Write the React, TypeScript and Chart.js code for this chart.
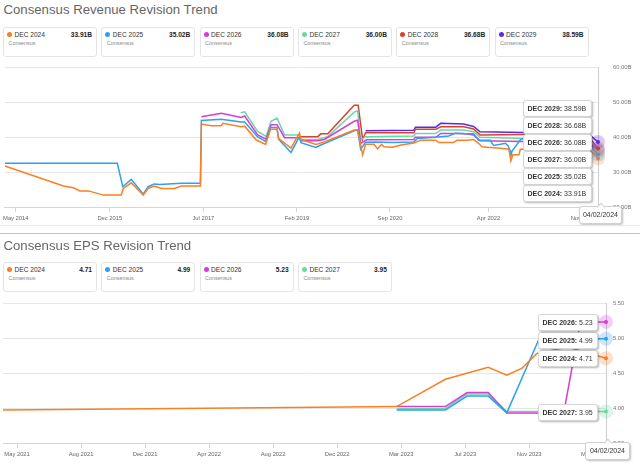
import React, { useEffect, useRef } from 'react';
import { Chart, registerables } from 'chart.js';

Chart.register(...registerables);

const FONT = '"Liberation Sans", Arial, Helvetica, sans-serif';

// ---------- Revenue chart data (x = months since Jan 2014, y = billions) ----------
const REV_NAMES = ['DEC 2024', 'DEC 2025', 'DEC 2026', 'DEC 2027', 'DEC 2028', 'DEC 2029'];
const REV_COLORS = ['#fb7f23', '#2fa0f0', '#d93bd6', '#6ad8a6', '#d9412f', '#5b2be0'];

const REV_DEC2024: [number, number][] = [
  [1.8, 31.7], [13.6, 26.0], [15.6, 25.5], [16.9, 24.6], [18.6, 24.6], [21.6, 23.4], [25.2, 23.4],
  [25.6, 25.3], [27.2, 26.9], [29.6, 23.4], [30.6, 25.3], [31.8, 26.0], [33.3, 25.3], [35.9, 25.3],
  [37.3, 26.0], [41.1, 26.0], [41.3, 43.7], [43.3, 43.2], [45.3, 43.2], [45.6, 43.9], [49.3, 42.9],
  [50.0, 43.1], [52.3, 39.2], [54.2, 37.9], [55.2, 42.2], [56.5, 42.2], [56.8, 39.6], [59.3, 36.8],
  [61.0, 41.1], [61.3, 39.3], [64.3, 37.9], [66.0, 38.6], [72.0, 42.0], [72.7, 42.0], [73.7, 34.9],
  [74.3, 37.9], [76.0, 37.9], [76.7, 36.6], [77.5, 37.9], [78.0, 37.2], [79.7, 37.1], [81.4, 37.7],
  [84.0, 38.3], [85.4, 39.1], [88.4, 39.1], [89.0, 38.4], [92.0, 38.4], [92.7, 39.1], [94.7, 39.1],
  [96.0, 39.3], [97.0, 38.2], [97.7, 37.2], [98.7, 37.1], [101.4, 36.8], [103.1, 36.5], [103.5, 33.2],
  [103.9, 34.9], [105.1, 34.9], [105.4, 36.5], [106.0, 36.5], [113.4, 36.5], [119.4, 36.0],
  [120.2, 35.2], [121.0, 33.91],
];
const REV_DEC2025: [number, number][] = [
  [1.8, 32.5], [24.4, 32.5], [25.5, 25.8], [27.2, 27.9], [29.6, 23.7], [30.6, 25.8], [31.8, 26.6],
  [32.9, 26.4], [37.3, 26.8], [41.1, 26.8], [41.3, 44.7], [45.3, 45.1], [49.3, 44.3], [50.0, 44.3],
  [52.6, 40.0], [54.3, 38.7], [55.2, 42.7], [56.5, 42.7], [56.8, 39.4], [59.3, 35.6], [61.0, 40.1],
  [61.3, 38.4], [64.3, 37.0], [65.3, 37.7], [72.0, 41.8], [72.7, 42.0], [73.3, 36.5], [74.3, 38.5],
  [76.0, 38.6], [79.7, 38.4], [84.0, 38.6], [84.7, 39.6], [88.4, 39.9], [89.4, 40.1], [91.0, 40.3],
  [92.4, 41.1], [94.0, 40.9], [96.0, 40.9], [97.0, 39.1], [99.4, 39.1], [99.7, 38.2], [100.1, 37.6],
  [101.4, 37.9], [102.4, 38.2], [102.9, 37.5], [103.4, 36.0], [103.5, 34.5], [103.7, 35.9],
  [105.4, 39.2], [106.0, 39.6], [113.4, 39.6], [119.4, 38.5], [120.2, 36.2], [121.0, 35.02],
];
const REV_DEC2026: [number, number][] = [
  [41.3, 45.8], [45.3, 46.8], [49.3, 45.6], [50.0, 46.0], [52.6, 40.6], [54.3, 39.4], [55.3, 43.5],
  [56.5, 43.5], [58.0, 39.8], [61.0, 39.8], [61.3, 38.9], [64.7, 38.9], [66.0, 39.3], [72.0, 44.5],
  [72.7, 44.8], [73.3, 38.2], [74.5, 39.2], [84.0, 39.3], [84.3, 39.9], [88.4, 39.9], [89.4, 41.0],
  [94.0, 41.0], [96.0, 40.6], [97.3, 38.9], [106.0, 38.7], [113.4, 38.7], [119.4, 38.2], [121.0, 36.08],
];
const REV_DEC2027: [number, number][] = [
  [49.2, 46.9], [50.0, 47.2], [52.6, 41.6], [54.3, 40.2], [55.3, 44.5], [56.5, 45.4], [58.0, 40.6],
  [61.0, 40.6], [61.3, 39.3], [64.7, 39.3], [66.7, 40.1], [72.0, 47.1], [72.7, 47.5], [73.3, 39.1],
  [74.3, 40.1], [84.0, 40.3], [84.3, 41.0], [88.4, 41.0], [89.4, 42.0], [94.0, 42.0], [96.0, 41.5],
  [97.3, 39.9], [106.0, 39.6], [113.4, 39.6], [119.4, 38.8], [121.0, 36.0],
];
const REV_DEC2028: [number, number][] = [
  [61.0, 40.1], [64.7, 40.1], [65.3, 40.9], [66.7, 40.9], [72.0, 49.1], [72.8, 49.1], [73.7, 39.3],
  [74.3, 41.2], [84.0, 41.2], [84.3, 42.2], [88.4, 42.2], [89.4, 42.9], [94.0, 42.9], [96.0, 42.3],
  [97.3, 40.6], [106.0, 40.7], [113.4, 40.7], [119.4, 39.6], [121.0, 36.68],
];
const REV_DEC2029: [number, number][] = [
  [74.3, 41.8], [84.0, 41.9], [84.3, 42.8], [88.4, 42.8], [89.4, 43.9], [94.0, 43.7], [96.0, 43.0],
  [97.3, 41.5], [106.0, 41.3], [113.4, 41.3], [119.4, 40.5], [121.0, 38.59],
];
const REV_SERIES = [REV_DEC2024, REV_DEC2025, REV_DEC2026, REV_DEC2027, REV_DEC2028, REV_DEC2029];
const REV_TICK_POS = [4, 22.9, 41.7, 60.5, 79.2, 99, 118];
const REV_TICK_LABELS = ['May 2014', 'Dec 2015', 'Jul 2017', 'Feb 2019', 'Sep 2020', 'Apr 2022', 'Nov 2023'];
const REV_X_RANGE = [1.8, 121.0];
const REV_Y_RANGE = [20, 60];
const REV_Y_STEP = 10;

// ---------- EPS chart data (x = axis tick index, y = EPS) ----------
const EPS_NAMES = ['DEC 2024', 'DEC 2025', 'DEC 2026', 'DEC 2027'];
const EPS_COLORS = ['#fb7f23', '#2fa0f0', '#d93bd6', '#6ad8a6'];
const EPS_DEC2024: [number, number][] = [
  [-0.22, 3.97], [4.73, 4.01], [5.93, 4.02], [6.69, 4.41], [7.36, 4.58], [7.65, 4.47], [7.89, 4.57],
  [8.12, 4.78], [8.6, 4.87], [9.2, 4.71],
];
const EPS_DEC2025: [number, number][] = [
  [5.93, 3.97], [6.69, 3.97], [7.03, 4.17], [7.36, 4.17], [7.65, 3.93], [8.15, 4.98], [9.2, 4.99],
];
const EPS_DEC2026: [number, number][] = [
  [5.93, 4.02], [6.69, 4.02], [7.03, 4.22], [7.36, 4.22], [7.65, 3.93], [8.54, 3.93], [8.8, 5.23], [9.2, 5.23],
];
const EPS_DEC2027: [number, number][] = [
  [5.93, 3.99], [6.69, 3.99], [7.03, 4.20], [7.36, 4.20], [7.65, 3.95], [9.2, 3.95],
];
const EPS_SERIES = [EPS_DEC2024, EPS_DEC2025, EPS_DEC2026, EPS_DEC2027];
const EPS_TICK_POS = [0, 1, 2, 3, 4, 5, 6, 7, 8, 9];
const EPS_TICK_LABELS = ['May 2021', 'Aug 2021', 'Dec 2021', 'Apr 2022', 'Aug 2022', 'Dec 2022', 'Mar 2023', 'Jul 2023', 'Nov 2023', 'Mar 2024'];
const EPS_X_RANGE = [-0.22, 9.2];
const EPS_Y_RANGE = [3.5, 5.5];
const EPS_Y_STEP = 0.5;

const HOVER_DATE = '04/02/2024';

const haloPlugin = {
  id: 'halo',
  afterDatasetsDraw(chart: any) {
    const ctx = chart.ctx;
    chart.data.datasets.forEach((ds: any, i: number) => {
      const meta = chart.getDatasetMeta(i);
      const pt = meta.data[meta.data.length - 1];
      if (!pt) return;
      ctx.save();
      ctx.globalAlpha = 0.25;
      ctx.fillStyle = ds.borderColor;
      ctx.beginPath();
      ctx.arc(pt.x, pt.y, 7, 0, Math.PI * 2);
      ctx.fill();
      ctx.globalAlpha = 1;
      ctx.beginPath();
      ctx.arc(pt.x, pt.y, 2, 0, Math.PI * 2);
      ctx.fill();
      ctx.restore();
    });
  },
};

type LCProps = {
  top: number;
  series: [number, number][][];
  names: string[];
  colors: string[];
  xRange: number[];
  tickPos: number[];
  tickLabels: string[];
  yRange: number[];
  yStep: number;
  yFmt: (v: number) => string;
  yWidth: number;
  yPad: number;
};

function LineChart(p: LCProps) {
  const ref = useRef<HTMLCanvasElement>(null);
  useEffect(() => {
    if (!ref.current) return;
    const chart = new Chart(ref.current, {
      type: 'line',
      data: {
        datasets: p.series.map((s, i) => ({
          label: p.names[i],
          data: s.map(([x, y]) => ({ x, y })),
          borderColor: p.colors[i],
          backgroundColor: p.colors[i],
          borderWidth: 1.5,
          pointRadius: 0,
          tension: 0,
          fill: false,
        })),
      },
      options: {
        animation: false,
        responsive: false,
        devicePixelRatio: 1,
        events: [],
        layout: { padding: { left: 3, top: 7, right: 0, bottom: 0 } },
        plugins: { legend: { display: false }, tooltip: { enabled: false } },
        scales: {
          x: {
            type: 'linear',
            min: p.xRange[0],
            max: p.xRange[1],
            grid: { drawOnChartArea: false, drawTicks: true, tickLength: 5, color: '#ccd6eb' },
            border: { color: '#ccd6eb' },
            ticks: {
              autoSkip: false,
              maxRotation: 0,
              padding: 3,
              color: '#666',
              font: { size: 5.8, family: FONT },
              callback: (_v: any, i: number) => p.tickLabels[i],
            },
            afterBuildTicks: (s: any) => {
              s.ticks = p.tickPos.map((v) => ({ value: v }));
            },
            afterFit: (s: any) => {
              s.height = 19;
            },
          },
          y: {
            position: 'right',
            min: p.yRange[0],
            max: p.yRange[1],
            ticks: {
              stepSize: p.yStep,
              padding: 0,
              color: '#777',
              font: { size: 5.8, family: FONT },
              callback: (v: any) => p.yFmt(Number(v)),
            },
            grid: { color: '#e6e6e6', drawTicks: true, tickLength: p.yPad, tickColor: 'rgba(0,0,0,0)' },
            border: { display: true, color: '#cccccc' },
            afterFit: (s: any) => {
              s.width = p.yWidth;
            },
          },
        },
      } as any,
      plugins: [haloPlugin],
    });
    return () => chart.destroy();
  }, []);
  return (
    <canvas
      ref={ref}
      width={640}
      height={166}
      style={{ position: 'absolute', left: 0, top: p.top, width: 640, height: 166 }}
    />
  );
}

function Card({ left, top, color, label, value }: any) {
  return (
    <div
      style={{
        position: 'absolute', left, top, width: 94, height: 30, boxSizing: 'border-box',
        border: '1px solid #e4e4e4', borderRadius: 3, background: '#fff', fontFamily: FONT,
      }}
    >
      <span style={{ position: 'absolute', left: 3, top: 3.5, width: 5, height: 5, borderRadius: '50%', background: color }} />
      <span style={{ position: 'absolute', left: 10.5, top: 1.5, fontSize: 6.6, lineHeight: '9px', color: '#333', whiteSpace: 'nowrap' }}>{label}</span>
      <span style={{ position: 'absolute', right: 4, top: 1.5, fontSize: 6.6, lineHeight: '9px', fontWeight: 'bold', color: '#222', whiteSpace: 'nowrap' }}>{value}</span>
      <span style={{ position: 'absolute', left: 4.5, top: 11.5, fontSize: 5.4, lineHeight: '7px', color: '#888' }}>Consensus</span>
    </div>
  );
}

function Tip({ left, top, width, label, value }: any) {
  return (
    <div
      style={{
        position: 'absolute', left, top, width, height: 17, boxSizing: 'border-box', background: '#fff',
        border: '1px solid #d6d6d6', borderRadius: 3, boxShadow: '1px 1px 2px rgba(0,0,0,0.3)',
        fontFamily: FONT, fontSize: 7, lineHeight: '15px', paddingLeft: 3.5, color: '#333', whiteSpace: 'nowrap',
      }}
    >
      <b>{label}:</b> {value}
    </div>
  );
}

function DateBox({ left, top, width }: any) {
  return (
    <div
      style={{
        position: 'absolute', left, top, width, height: 18, boxSizing: 'border-box', background: '#fff',
        border: '1px solid #d0d0d0', borderRadius: 3, boxShadow: '1px 1px 2px rgba(0,0,0,0.25)',
        fontFamily: FONT, fontSize: 7, lineHeight: '16px', textAlign: 'center', color: '#333',
      }}
    >
      <span style={{ position: 'absolute', left: width / 2 - 4, top: -3, width: 5, height: 5, background: '#fff', borderLeft: '1px solid #d0d0d0', borderTop: '1px solid #d0d0d0', transform: 'rotate(45deg)' }} />
      <span style={{ position: 'relative' }}>{HOVER_DATE}</span>
    </div>
  );
}

const lastVal = (s: [number, number][]) => s[s.length - 1][1];

export default function App() {
  const revTips = REV_NAMES.map((n, i) => ({ n, v: lastVal(REV_SERIES[i]) })).sort((a, b) => b.v - a.v);
  const revTipTops = [100, 117, 134, 151, 168, 185];
  const epsTipTop: Record<string, number> = { 'DEC 2026': 314, 'DEC 2025': 331.5, 'DEC 2024': 349.5, 'DEC 2027': 404 };
  return (
    <div style={{ position: 'fixed', left: 0, top: 0, width: 640, height: 468, background: '#fff', overflow: 'hidden' }}>
      <div style={{ position: 'absolute', left: 3.5, top: 2, fontFamily: FONT, fontSize: 13.2, lineHeight: '16px', color: '#666', whiteSpace: 'nowrap' }}>
        Consensus Revenue Revision Trend
      </div>
      {REV_NAMES.map((n, i) => (
        <Card key={n} left={3 + i * 98.3} top={27} color={REV_COLORS[i]} label={n} value={lastVal(REV_SERIES[i]).toFixed(2) + 'B'} />
      ))}
      <LineChart
        top={60}
        series={REV_SERIES}
        names={REV_NAMES}
        colors={REV_COLORS}
        xRange={REV_X_RANGE}
        tickPos={REV_TICK_POS}
        tickLabels={REV_TICK_LABELS}
        yRange={REV_Y_RANGE}
        yStep={REV_Y_STEP}
        yFmt={(v) => v.toFixed(2) + 'B'}
        yWidth={42}
        yPad={15}
      />
      {revTips.map((t, i) => (
        <Tip key={t.n} left={523} top={revTipTops[i]} width={69} label={t.n} value={t.v.toFixed(2) + 'B'} />
      ))}
      <DateBox left={579} top={206} width={43} />
      <div style={{ position: 'absolute', left: 0, top: 225, width: 640, height: 1, background: '#e8e8e8' }} />
      <div style={{ position: 'absolute', left: 0, top: 233, width: 640, height: 1, background: '#c4c4c4' }} />

      <div style={{ position: 'absolute', left: 3.5, top: 238, fontFamily: FONT, fontSize: 13.2, lineHeight: '16px', color: '#666', whiteSpace: 'nowrap' }}>
        Consensus EPS Revision Trend
      </div>
      {EPS_NAMES.map((n, i) => (
        <Card key={n} left={3 + i * 98.3} top={262} color={EPS_COLORS[i]} label={n} value={lastVal(EPS_SERIES[i]).toFixed(2)} />
      ))}
      <LineChart
        top={296}
        series={EPS_SERIES}
        names={EPS_NAMES}
        colors={EPS_COLORS}
        xRange={EPS_X_RANGE}
        tickPos={EPS_TICK_POS}
        tickLabels={EPS_TICK_LABELS}
        yRange={EPS_Y_RANGE}
        yStep={EPS_Y_STEP}
        yFmt={(v) => v.toFixed(2)}
        yWidth={34}
        yPad={7}
      />
      {EPS_NAMES.map((n, i) => (
        <Tip key={n} left={538} top={epsTipTop[n]} width={60} label={n} value={lastVal(EPS_SERIES[i]).toFixed(2)} />
      ))}
      <DateBox left={585} top={442} width={45} />
    </div>
  );
}
